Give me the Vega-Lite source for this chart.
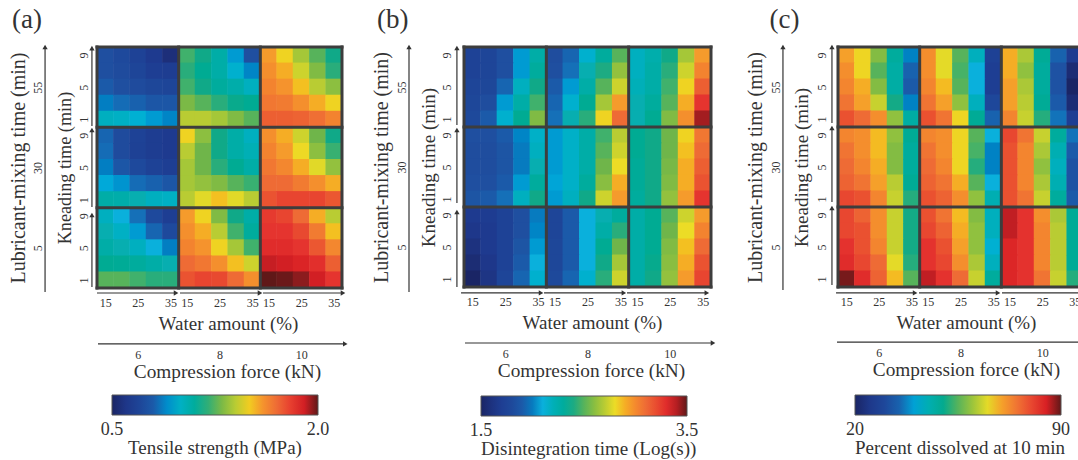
{"$schema":"https://vega.github.io/schema/vega-lite/v6.json","padding":{"left":7,"top":5,"right":0,"bottom":0},"bounds":"flush","spacing":122,"resolve":{"scale":{"color":"independent"},"legend":{"color":"independent"}},"config":{"view":{"stroke":null},"font":"Liberation Serif","axis":{"labelFont":"Liberation Serif","titleFont":"Liberation Serif","labelColor":"#333","titleColor":"#333","titleFontWeight":"normal","grid":false,"domain":false,"ticks":false},"legend":{"labelFont":"Liberation Serif","titleFont":"Liberation Serif","labelColor":"#333","titleColor":"#333","titleFontWeight":"normal","titleLimit":320}},"datasets":{"a":[
{"x":0,"y":14,"v":0.77},{"x":1,"y":14,"v":0.73},{"x":2,"y":14,"v":0.68},{"x":3,"y":14,"v":0.62},{"x":4,"y":14,"v":0.56},{"x":5,"y":14,"v":1.22},{"x":6,"y":14,"v":1.16},{"x":7,"y":14,"v":1.07},{"x":8,"y":14,"v":0.92},{"x":9,"y":14,"v":0.77},{"x":10,"y":14,"v":1.58},{"x":11,"y":14,"v":1.49},{"x":12,"y":14,"v":1.37},{"x":13,"y":14,"v":1.25},{"x":14,"y":14,"v":1.16},
{"x":0,"y":13,"v":0.77},{"x":1,"y":13,"v":0.74},{"x":2,"y":13,"v":0.7},{"x":3,"y":13,"v":0.65},{"x":4,"y":13,"v":0.64},{"x":5,"y":13,"v":1.19},{"x":6,"y":13,"v":1.13},{"x":7,"y":13,"v":1.07},{"x":8,"y":13,"v":0.98},{"x":9,"y":13,"v":0.89},{"x":10,"y":13,"v":1.61},{"x":11,"y":13,"v":1.55},{"x":12,"y":13,"v":1.43},{"x":13,"y":13,"v":1.31},{"x":14,"y":13,"v":1.19},
{"x":0,"y":12,"v":0.8},{"x":1,"y":12,"v":0.77},{"x":2,"y":12,"v":0.74},{"x":3,"y":12,"v":0.71},{"x":4,"y":12,"v":0.7},{"x":5,"y":12,"v":1.22},{"x":6,"y":12,"v":1.16},{"x":7,"y":12,"v":1.1},{"x":8,"y":12,"v":1.06},{"x":9,"y":12,"v":1.01},{"x":10,"y":12,"v":1.64},{"x":11,"y":12,"v":1.6},{"x":12,"y":12,"v":1.52},{"x":13,"y":12,"v":1.4},{"x":14,"y":12,"v":1.33},
{"x":0,"y":11,"v":0.88},{"x":1,"y":11,"v":0.85},{"x":2,"y":11,"v":0.82},{"x":3,"y":11,"v":0.79},{"x":4,"y":11,"v":0.79},{"x":5,"y":11,"v":1.3},{"x":6,"y":11,"v":1.25},{"x":7,"y":11,"v":1.19},{"x":8,"y":11,"v":1.15},{"x":9,"y":11,"v":1.13},{"x":10,"y":11,"v":1.67},{"x":11,"y":11,"v":1.66},{"x":12,"y":11,"v":1.61},{"x":13,"y":11,"v":1.55},{"x":14,"y":11,"v":1.49},
{"x":0,"y":10,"v":1.01},{"x":1,"y":10,"v":1.0},{"x":2,"y":10,"v":0.97},{"x":3,"y":10,"v":0.92},{"x":4,"y":10,"v":0.89},{"x":5,"y":10,"v":1.4},{"x":6,"y":10,"v":1.4},{"x":7,"y":10,"v":1.37},{"x":8,"y":10,"v":1.31},{"x":9,"y":10,"v":1.25},{"x":10,"y":10,"v":1.73},{"x":11,"y":10,"v":1.73},{"x":12,"y":10,"v":1.72},{"x":13,"y":10,"v":1.69},{"x":14,"y":10,"v":1.64},
{"x":0,"y":9,"v":0.83},{"x":1,"y":9,"v":0.74},{"x":2,"y":9,"v":0.68},{"x":3,"y":9,"v":0.64},{"x":4,"y":9,"v":0.62},{"x":5,"y":9,"v":1.49},{"x":6,"y":9,"v":1.33},{"x":7,"y":9,"v":1.16},{"x":8,"y":9,"v":1.07},{"x":9,"y":9,"v":1.01},{"x":10,"y":9,"v":1.61},{"x":11,"y":9,"v":1.55},{"x":12,"y":9,"v":1.43},{"x":13,"y":9,"v":1.28},{"x":14,"y":9,"v":1.16},
{"x":0,"y":8,"v":0.85},{"x":1,"y":8,"v":0.74},{"x":2,"y":8,"v":0.67},{"x":3,"y":8,"v":0.64},{"x":4,"y":8,"v":0.62},{"x":5,"y":8,"v":1.4},{"x":6,"y":8,"v":1.28},{"x":7,"y":8,"v":1.16},{"x":8,"y":8,"v":1.07},{"x":9,"y":8,"v":1.03},{"x":10,"y":8,"v":1.64},{"x":11,"y":8,"v":1.58},{"x":12,"y":8,"v":1.48},{"x":13,"y":8,"v":1.33},{"x":14,"y":8,"v":1.21},
{"x":0,"y":7,"v":0.88},{"x":1,"y":7,"v":0.79},{"x":2,"y":7,"v":0.73},{"x":3,"y":7,"v":0.68},{"x":4,"y":7,"v":0.65},{"x":5,"y":7,"v":1.37},{"x":6,"y":7,"v":1.28},{"x":7,"y":7,"v":1.19},{"x":8,"y":7,"v":1.13},{"x":9,"y":7,"v":1.07},{"x":10,"y":7,"v":1.67},{"x":11,"y":7,"v":1.63},{"x":12,"y":7,"v":1.55},{"x":13,"y":7,"v":1.46},{"x":14,"y":7,"v":1.34},
{"x":0,"y":6,"v":0.94},{"x":1,"y":6,"v":0.91},{"x":2,"y":6,"v":0.85},{"x":3,"y":6,"v":0.82},{"x":4,"y":6,"v":0.79},{"x":5,"y":6,"v":1.37},{"x":6,"y":6,"v":1.34},{"x":7,"y":6,"v":1.31},{"x":8,"y":6,"v":1.25},{"x":9,"y":6,"v":1.21},{"x":10,"y":6,"v":1.7},{"x":11,"y":6,"v":1.7},{"x":12,"y":6,"v":1.66},{"x":13,"y":6,"v":1.61},{"x":14,"y":6,"v":1.55},
{"x":0,"y":5,"v":1.07},{"x":1,"y":5,"v":1.06},{"x":2,"y":5,"v":1.04},{"x":3,"y":5,"v":1.01},{"x":4,"y":5,"v":1.0},{"x":5,"y":5,"v":1.4},{"x":6,"y":5,"v":1.46},{"x":7,"y":5,"v":1.52},{"x":8,"y":5,"v":1.46},{"x":9,"y":5,"v":1.4},{"x":10,"y":5,"v":1.76},{"x":11,"y":5,"v":1.79},{"x":12,"y":5,"v":1.79},{"x":13,"y":5,"v":1.79},{"x":14,"y":5,"v":1.75},
{"x":0,"y":4,"v":1.01},{"x":1,"y":4,"v":0.95},{"x":2,"y":4,"v":0.86},{"x":3,"y":4,"v":0.73},{"x":4,"y":4,"v":0.65},{"x":5,"y":4,"v":1.58},{"x":6,"y":4,"v":1.49},{"x":7,"y":4,"v":1.31},{"x":8,"y":4,"v":1.16},{"x":9,"y":4,"v":1.07},{"x":10,"y":4,"v":1.81},{"x":11,"y":4,"v":1.79},{"x":12,"y":4,"v":1.7},{"x":13,"y":4,"v":1.55},{"x":14,"y":4,"v":1.4},
{"x":0,"y":3,"v":1.04},{"x":1,"y":3,"v":1.0},{"x":2,"y":3,"v":0.92},{"x":3,"y":3,"v":0.83},{"x":4,"y":3,"v":0.73},{"x":5,"y":3,"v":1.61},{"x":6,"y":3,"v":1.55},{"x":7,"y":3,"v":1.4},{"x":8,"y":3,"v":1.22},{"x":9,"y":3,"v":1.1},{"x":10,"y":3,"v":1.82},{"x":11,"y":3,"v":1.82},{"x":12,"y":3,"v":1.78},{"x":13,"y":3,"v":1.66},{"x":14,"y":3,"v":1.52},
{"x":0,"y":2,"v":1.07},{"x":1,"y":2,"v":1.04},{"x":2,"y":2,"v":1.01},{"x":3,"y":2,"v":0.95},{"x":4,"y":2,"v":0.88},{"x":5,"y":2,"v":1.64},{"x":6,"y":2,"v":1.6},{"x":7,"y":2,"v":1.49},{"x":8,"y":2,"v":1.37},{"x":9,"y":2,"v":1.22},{"x":10,"y":2,"v":1.85},{"x":11,"y":2,"v":1.85},{"x":12,"y":2,"v":1.82},{"x":13,"y":2,"v":1.75},{"x":14,"y":2,"v":1.63},
{"x":0,"y":1,"v":1.13},{"x":1,"y":1,"v":1.12},{"x":2,"y":1,"v":1.1},{"x":3,"y":1,"v":1.07},{"x":4,"y":1,"v":1.04},{"x":5,"y":1,"v":1.7},{"x":6,"y":1,"v":1.67},{"x":7,"y":1,"v":1.61},{"x":8,"y":1,"v":1.52},{"x":9,"y":1,"v":1.43},{"x":10,"y":1,"v":1.91},{"x":11,"y":1,"v":1.9},{"x":12,"y":1,"v":1.88},{"x":13,"y":1,"v":1.84},{"x":14,"y":1,"v":1.73},
{"x":0,"y":0,"v":1.25},{"x":1,"y":0,"v":1.25},{"x":2,"y":0,"v":1.22},{"x":3,"y":0,"v":1.19},{"x":4,"y":0,"v":1.19},{"x":5,"y":0,"v":1.76},{"x":6,"y":0,"v":1.79},{"x":7,"y":0,"v":1.78},{"x":8,"y":0,"v":1.7},{"x":9,"y":0,"v":1.61},{"x":10,"y":0,"v":2.0},{"x":11,"y":0,"v":1.99},{"x":12,"y":0,"v":1.96},{"x":13,"y":0,"v":1.9},{"x":14,"y":0,"v":1.82}
],"b":[
{"x":0,"y":14,"v":1.74},{"x":1,"y":14,"v":1.76},{"x":2,"y":14,"v":1.86},{"x":3,"y":14,"v":2.06},{"x":4,"y":14,"v":2.26},{"x":5,"y":14,"v":1.84},{"x":6,"y":14,"v":1.94},{"x":7,"y":14,"v":2.14},{"x":8,"y":14,"v":2.3},{"x":9,"y":14,"v":2.5},{"x":10,"y":14,"v":2.18},{"x":11,"y":14,"v":2.24},{"x":12,"y":14,"v":2.38},{"x":13,"y":14,"v":2.66},{"x":14,"y":14,"v":2.94},
{"x":0,"y":13,"v":1.74},{"x":1,"y":13,"v":1.76},{"x":2,"y":13,"v":1.86},{"x":3,"y":13,"v":2.06},{"x":4,"y":13,"v":2.3},{"x":5,"y":13,"v":1.86},{"x":6,"y":13,"v":1.98},{"x":7,"y":13,"v":2.22},{"x":8,"y":13,"v":2.4},{"x":9,"y":13,"v":2.62},{"x":10,"y":13,"v":2.18},{"x":11,"y":13,"v":2.26},{"x":12,"y":13,"v":2.42},{"x":13,"y":13,"v":2.74},{"x":14,"y":13,"v":3.02},
{"x":0,"y":12,"v":1.76},{"x":1,"y":12,"v":1.78},{"x":2,"y":12,"v":1.94},{"x":3,"y":12,"v":2.18},{"x":4,"y":12,"v":2.38},{"x":5,"y":12,"v":1.9},{"x":6,"y":12,"v":2.06},{"x":7,"y":12,"v":2.26},{"x":8,"y":12,"v":2.5},{"x":9,"y":12,"v":2.74},{"x":10,"y":12,"v":2.2},{"x":11,"y":12,"v":2.26},{"x":12,"y":12,"v":2.46},{"x":13,"y":12,"v":2.82},{"x":14,"y":12,"v":3.14},
{"x":0,"y":11,"v":1.78},{"x":1,"y":11,"v":1.84},{"x":2,"y":11,"v":2.06},{"x":3,"y":11,"v":2.26},{"x":4,"y":11,"v":2.46},{"x":5,"y":11,"v":1.94},{"x":6,"y":11,"v":2.14},{"x":7,"y":11,"v":2.34},{"x":8,"y":11,"v":2.66},{"x":9,"y":11,"v":2.94},{"x":10,"y":11,"v":2.22},{"x":11,"y":11,"v":2.3},{"x":12,"y":11,"v":2.5},{"x":13,"y":11,"v":2.9},{"x":14,"y":11,"v":3.26},
{"x":0,"y":10,"v":1.8},{"x":1,"y":10,"v":1.9},{"x":2,"y":10,"v":2.14},{"x":3,"y":10,"v":2.34},{"x":4,"y":10,"v":2.58},{"x":5,"y":10,"v":1.98},{"x":6,"y":10,"v":2.22},{"x":7,"y":10,"v":2.42},{"x":8,"y":10,"v":2.82},{"x":9,"y":10,"v":3.1},{"x":10,"y":10,"v":2.22},{"x":11,"y":10,"v":2.34},{"x":12,"y":10,"v":2.58},{"x":13,"y":10,"v":2.98},{"x":14,"y":10,"v":3.42},
{"x":0,"y":9,"v":1.86},{"x":1,"y":9,"v":1.86},{"x":2,"y":9,"v":1.9},{"x":3,"y":9,"v":2.02},{"x":4,"y":9,"v":2.16},{"x":5,"y":9,"v":2.06},{"x":6,"y":9,"v":2.16},{"x":7,"y":9,"v":2.26},{"x":8,"y":9,"v":2.46},{"x":9,"y":9,"v":2.7},{"x":10,"y":9,"v":2.34},{"x":11,"y":9,"v":2.38},{"x":12,"y":9,"v":2.54},{"x":13,"y":9,"v":2.82},{"x":14,"y":9,"v":3.06},
{"x":0,"y":8,"v":1.84},{"x":1,"y":8,"v":1.84},{"x":2,"y":8,"v":1.88},{"x":3,"y":8,"v":2.0},{"x":4,"y":8,"v":2.18},{"x":5,"y":8,"v":2.06},{"x":6,"y":8,"v":2.16},{"x":7,"y":8,"v":2.26},{"x":8,"y":8,"v":2.5},{"x":9,"y":8,"v":2.74},{"x":10,"y":8,"v":2.34},{"x":11,"y":8,"v":2.38},{"x":12,"y":8,"v":2.54},{"x":13,"y":8,"v":2.86},{"x":14,"y":8,"v":3.1},
{"x":0,"y":7,"v":1.84},{"x":1,"y":7,"v":1.84},{"x":2,"y":7,"v":1.88},{"x":3,"y":7,"v":2.0},{"x":4,"y":7,"v":2.22},{"x":5,"y":7,"v":2.06},{"x":6,"y":7,"v":2.16},{"x":7,"y":7,"v":2.26},{"x":8,"y":7,"v":2.54},{"x":9,"y":7,"v":2.8},{"x":10,"y":7,"v":2.32},{"x":11,"y":7,"v":2.38},{"x":12,"y":7,"v":2.56},{"x":13,"y":7,"v":2.9},{"x":14,"y":7,"v":3.14},
{"x":0,"y":6,"v":1.86},{"x":1,"y":6,"v":1.86},{"x":2,"y":6,"v":1.9},{"x":3,"y":6,"v":2.06},{"x":4,"y":6,"v":2.3},{"x":5,"y":6,"v":2.08},{"x":6,"y":6,"v":2.16},{"x":7,"y":6,"v":2.3},{"x":8,"y":6,"v":2.6},{"x":9,"y":6,"v":2.9},{"x":10,"y":6,"v":2.32},{"x":11,"y":6,"v":2.38},{"x":12,"y":6,"v":2.58},{"x":13,"y":6,"v":2.9},{"x":14,"y":6,"v":3.18},
{"x":0,"y":5,"v":1.88},{"x":1,"y":5,"v":1.9},{"x":2,"y":5,"v":1.98},{"x":3,"y":5,"v":2.18},{"x":4,"y":5,"v":2.38},{"x":5,"y":5,"v":2.06},{"x":6,"y":5,"v":2.18},{"x":7,"y":5,"v":2.38},{"x":8,"y":5,"v":2.74},{"x":9,"y":5,"v":2.94},{"x":10,"y":5,"v":2.3},{"x":11,"y":5,"v":2.38},{"x":12,"y":5,"v":2.62},{"x":13,"y":5,"v":2.94},{"x":14,"y":5,"v":3.26},
{"x":0,"y":4,"v":1.66},{"x":1,"y":4,"v":1.68},{"x":2,"y":4,"v":1.74},{"x":3,"y":4,"v":1.86},{"x":4,"y":4,"v":2.0},{"x":5,"y":4,"v":1.76},{"x":6,"y":4,"v":1.9},{"x":7,"y":4,"v":2.1},{"x":8,"y":4,"v":2.22},{"x":9,"y":4,"v":2.3},{"x":10,"y":4,"v":2.26},{"x":11,"y":4,"v":2.34},{"x":12,"y":4,"v":2.5},{"x":13,"y":4,"v":2.74},{"x":14,"y":4,"v":2.94},
{"x":0,"y":3,"v":1.64},{"x":1,"y":3,"v":1.66},{"x":2,"y":3,"v":1.74},{"x":3,"y":3,"v":1.86},{"x":4,"y":3,"v":2.02},{"x":5,"y":3,"v":1.76},{"x":6,"y":3,"v":1.9},{"x":7,"y":3,"v":2.1},{"x":8,"y":3,"v":2.26},{"x":9,"y":3,"v":2.42},{"x":10,"y":3,"v":2.26},{"x":11,"y":3,"v":2.34},{"x":12,"y":3,"v":2.54},{"x":13,"y":3,"v":2.8},{"x":14,"y":3,"v":3.02},
{"x":0,"y":2,"v":1.6},{"x":1,"y":2,"v":1.66},{"x":2,"y":2,"v":1.74},{"x":3,"y":2,"v":1.88},{"x":4,"y":2,"v":2.06},{"x":5,"y":2,"v":1.78},{"x":6,"y":2,"v":1.9},{"x":7,"y":2,"v":2.1},{"x":8,"y":2,"v":2.34},{"x":9,"y":2,"v":2.54},{"x":10,"y":2,"v":2.26},{"x":11,"y":2,"v":2.34},{"x":12,"y":2,"v":2.58},{"x":13,"y":2,"v":2.86},{"x":14,"y":2,"v":3.1},
{"x":0,"y":1,"v":1.56},{"x":1,"y":1,"v":1.64},{"x":2,"y":1,"v":1.74},{"x":3,"y":1,"v":1.9},{"x":4,"y":1,"v":2.1},{"x":5,"y":1,"v":1.78},{"x":6,"y":1,"v":1.9},{"x":7,"y":1,"v":2.1},{"x":8,"y":1,"v":2.38},{"x":9,"y":1,"v":2.66},{"x":10,"y":1,"v":2.26},{"x":11,"y":1,"v":2.36},{"x":12,"y":1,"v":2.6},{"x":13,"y":1,"v":2.9},{"x":14,"y":1,"v":3.18},
{"x":0,"y":0,"v":1.5},{"x":1,"y":0,"v":1.62},{"x":2,"y":0,"v":1.76},{"x":3,"y":0,"v":1.94},{"x":4,"y":0,"v":2.14},{"x":5,"y":0,"v":1.8},{"x":6,"y":0,"v":1.94},{"x":7,"y":0,"v":2.14},{"x":8,"y":0,"v":2.42},{"x":9,"y":0,"v":2.74},{"x":10,"y":0,"v":2.26},{"x":11,"y":0,"v":2.38},{"x":12,"y":0,"v":2.62},{"x":13,"y":0,"v":2.94},{"x":14,"y":0,"v":3.22}
],"c":[
{"x":0,"y":14,"v":70},{"x":1,"y":14,"v":66},{"x":2,"y":14,"v":58},{"x":3,"y":14,"v":48},{"x":4,"y":14,"v":38},{"x":5,"y":14,"v":72},{"x":6,"y":14,"v":65},{"x":7,"y":14,"v":55},{"x":8,"y":14,"v":44},{"x":9,"y":14,"v":28},{"x":10,"y":14,"v":69},{"x":11,"y":14,"v":61},{"x":12,"y":14,"v":49},{"x":13,"y":14,"v":35},{"x":14,"y":14,"v":26},
{"x":0,"y":13,"v":72},{"x":1,"y":13,"v":66},{"x":2,"y":13,"v":55},{"x":3,"y":13,"v":47},{"x":4,"y":13,"v":35},{"x":5,"y":13,"v":72},{"x":6,"y":13,"v":65},{"x":7,"y":13,"v":54},{"x":8,"y":13,"v":41},{"x":9,"y":13,"v":27},{"x":10,"y":13,"v":69},{"x":11,"y":13,"v":59},{"x":12,"y":13,"v":48},{"x":13,"y":13,"v":33},{"x":14,"y":13,"v":22},
{"x":0,"y":12,"v":73},{"x":1,"y":12,"v":69},{"x":2,"y":12,"v":58},{"x":3,"y":12,"v":47},{"x":4,"y":12,"v":34},{"x":5,"y":12,"v":73},{"x":6,"y":12,"v":68},{"x":7,"y":12,"v":55},{"x":8,"y":12,"v":41},{"x":9,"y":12,"v":27},{"x":10,"y":12,"v":70},{"x":11,"y":12,"v":61},{"x":12,"y":12,"v":48},{"x":13,"y":12,"v":33},{"x":14,"y":12,"v":20},
{"x":0,"y":11,"v":75},{"x":1,"y":11,"v":70},{"x":2,"y":11,"v":63},{"x":3,"y":11,"v":51},{"x":4,"y":11,"v":38},{"x":5,"y":11,"v":75},{"x":6,"y":11,"v":70},{"x":7,"y":11,"v":59},{"x":8,"y":11,"v":44},{"x":9,"y":11,"v":30},{"x":10,"y":11,"v":70},{"x":11,"y":11,"v":62},{"x":12,"y":11,"v":49},{"x":13,"y":11,"v":34},{"x":14,"y":11,"v":22},
{"x":0,"y":10,"v":79},{"x":1,"y":10,"v":76},{"x":2,"y":10,"v":72},{"x":3,"y":10,"v":59},{"x":4,"y":10,"v":47},{"x":5,"y":10,"v":79},{"x":6,"y":10,"v":75},{"x":7,"y":10,"v":66},{"x":8,"y":10,"v":49},{"x":9,"y":10,"v":35},{"x":10,"y":10,"v":73},{"x":11,"y":10,"v":63},{"x":12,"y":10,"v":52},{"x":13,"y":10,"v":37},{"x":14,"y":10,"v":27},
{"x":0,"y":9,"v":73},{"x":1,"y":9,"v":72},{"x":2,"y":9,"v":68},{"x":3,"y":9,"v":59},{"x":4,"y":9,"v":49},{"x":5,"y":9,"v":73},{"x":6,"y":9,"v":72},{"x":7,"y":9,"v":66},{"x":8,"y":9,"v":55},{"x":9,"y":9,"v":41},{"x":10,"y":9,"v":80},{"x":11,"y":9,"v":75},{"x":12,"y":9,"v":63},{"x":13,"y":9,"v":48},{"x":14,"y":9,"v":37},
{"x":0,"y":8,"v":75},{"x":1,"y":8,"v":72},{"x":2,"y":8,"v":68},{"x":3,"y":8,"v":58},{"x":4,"y":8,"v":48},{"x":5,"y":8,"v":75},{"x":6,"y":8,"v":72},{"x":7,"y":8,"v":66},{"x":8,"y":8,"v":54},{"x":9,"y":8,"v":38},{"x":10,"y":8,"v":79},{"x":11,"y":8,"v":73},{"x":12,"y":8,"v":61},{"x":13,"y":8,"v":45},{"x":14,"y":8,"v":34},
{"x":0,"y":7,"v":76},{"x":1,"y":7,"v":73},{"x":2,"y":7,"v":69},{"x":3,"y":7,"v":58},{"x":4,"y":7,"v":48},{"x":5,"y":7,"v":76},{"x":6,"y":7,"v":73},{"x":7,"y":7,"v":66},{"x":8,"y":7,"v":52},{"x":9,"y":7,"v":38},{"x":10,"y":7,"v":79},{"x":11,"y":7,"v":73},{"x":12,"y":7,"v":59},{"x":13,"y":7,"v":44},{"x":14,"y":7,"v":33},
{"x":0,"y":6,"v":77},{"x":1,"y":6,"v":75},{"x":2,"y":6,"v":70},{"x":3,"y":6,"v":62},{"x":4,"y":6,"v":49},{"x":5,"y":6,"v":77},{"x":6,"y":6,"v":75},{"x":7,"y":6,"v":69},{"x":8,"y":6,"v":55},{"x":9,"y":6,"v":41},{"x":10,"y":6,"v":79},{"x":11,"y":6,"v":73},{"x":12,"y":6,"v":61},{"x":13,"y":6,"v":45},{"x":14,"y":6,"v":33},
{"x":0,"y":5,"v":80},{"x":1,"y":5,"v":79},{"x":2,"y":5,"v":73},{"x":3,"y":5,"v":63},{"x":4,"y":5,"v":52},{"x":5,"y":5,"v":79},{"x":6,"y":5,"v":77},{"x":7,"y":5,"v":72},{"x":8,"y":5,"v":59},{"x":9,"y":5,"v":45},{"x":10,"y":5,"v":79},{"x":11,"y":5,"v":75},{"x":12,"y":5,"v":63},{"x":13,"y":5,"v":48},{"x":14,"y":5,"v":34},
{"x":0,"y":4,"v":80},{"x":1,"y":4,"v":77},{"x":2,"y":4,"v":72},{"x":3,"y":4,"v":63},{"x":4,"y":4,"v":51},{"x":5,"y":4,"v":79},{"x":6,"y":4,"v":75},{"x":7,"y":4,"v":68},{"x":8,"y":4,"v":58},{"x":9,"y":4,"v":44},{"x":10,"y":4,"v":86},{"x":11,"y":4,"v":82},{"x":12,"y":4,"v":72},{"x":13,"y":4,"v":61},{"x":14,"y":4,"v":49},
{"x":0,"y":3,"v":80},{"x":1,"y":3,"v":79},{"x":2,"y":3,"v":72},{"x":3,"y":3,"v":63},{"x":4,"y":3,"v":51},{"x":5,"y":3,"v":80},{"x":6,"y":3,"v":77},{"x":7,"y":3,"v":69},{"x":8,"y":3,"v":59},{"x":9,"y":3,"v":44},{"x":10,"y":3,"v":86},{"x":11,"y":3,"v":82},{"x":12,"y":3,"v":73},{"x":13,"y":3,"v":62},{"x":14,"y":3,"v":49},
{"x":0,"y":2,"v":82},{"x":1,"y":2,"v":79},{"x":2,"y":2,"v":73},{"x":3,"y":2,"v":63},{"x":4,"y":2,"v":51},{"x":5,"y":2,"v":82},{"x":6,"y":2,"v":79},{"x":7,"y":2,"v":70},{"x":8,"y":2,"v":59},{"x":9,"y":2,"v":42},{"x":10,"y":2,"v":84},{"x":11,"y":2,"v":82},{"x":12,"y":2,"v":73},{"x":13,"y":2,"v":62},{"x":14,"y":2,"v":49},
{"x":0,"y":1,"v":83},{"x":1,"y":1,"v":80},{"x":2,"y":1,"v":76},{"x":3,"y":1,"v":65},{"x":4,"y":1,"v":52},{"x":5,"y":1,"v":82},{"x":6,"y":1,"v":80},{"x":7,"y":1,"v":72},{"x":8,"y":1,"v":61},{"x":9,"y":1,"v":44},{"x":10,"y":1,"v":84},{"x":11,"y":1,"v":82},{"x":12,"y":1,"v":73},{"x":13,"y":1,"v":62},{"x":14,"y":1,"v":49},
{"x":0,"y":0,"v":89},{"x":1,"y":0,"v":83},{"x":2,"y":0,"v":77},{"x":3,"y":0,"v":68},{"x":4,"y":0,"v":55},{"x":5,"y":0,"v":86},{"x":6,"y":0,"v":82},{"x":7,"y":0,"v":76},{"x":8,"y":0,"v":63},{"x":9,"y":0,"v":48},{"x":10,"y":0,"v":84},{"x":11,"y":0,"v":82},{"x":12,"y":0,"v":75},{"x":13,"y":0,"v":63},{"x":14,"y":0,"v":52}
],"g":[{"g":-0.5},{"g":4.5},{"g":9.5},{"g":14.5}],
"ara":[{"x":-0.5,"x2":4.34,"y":-0.81,"y2":-0.81},{"x":4.58,"x2":9.48,"y":-0.81,"y2":-0.81},{"x":9.66,"x2":14.56,"y":-0.81,"y2":-0.81},{"x":-0.44,"x2":14.7,"y":-3.98,"y2":-3.98},{"x":-0.81,"x2":-0.81,"y":-0.44,"y2":4.04},{"x":-0.81,"x2":-0.81,"y":4.54,"y2":9.33},{"x":-0.81,"x2":-0.81,"y":9.58,"y2":14.43},{"x":-3.68,"x2":-3.68,"y":-0.75,"y2":14.5}],
"ha":[{"x":4.34,"y":-0.81,"s":"triangle-right"},{"x":9.48,"y":-0.81,"s":"triangle-right"},{"x":14.56,"y":-0.81,"s":"triangle-right"},{"x":14.7,"y":-3.98,"s":"triangle-right"},{"x":-0.81,"y":4.04,"s":"triangle-up"},{"x":-0.81,"y":9.33,"s":"triangle-up"},{"x":-0.81,"y":14.43,"s":"triangle-up"},{"x":-3.68,"y":14.5,"s":"triangle-up"}],
"arb":[{"x":-0.68,"x2":4.18,"y":-0.87,"y2":-0.87},{"x":4.36,"x2":9.21,"y":-0.87,"y2":-0.87},{"x":9.4,"x2":14.25,"y":-0.87,"y2":-0.87},{"x":-0.44,"x2":14.62,"y":-4.0,"y2":-4.0},{"x":-0.93,"x2":-0.93,"y":-0.5,"y2":4.19},{"x":-0.93,"x2":-0.93,"y":4.75,"y2":9.31},{"x":-0.93,"x2":-0.93,"y":9.63,"y2":14.44},{"x":-3.84,"x2":-3.84,"y":-0.81,"y2":14.5}],
"hb":[{"x":4.18,"y":-0.87,"s":"triangle-right"},{"x":9.21,"y":-0.87,"s":"triangle-right"},{"x":14.25,"y":-0.87,"s":"triangle-right"},{"x":14.62,"y":-4.0,"s":"triangle-right"},{"x":-0.93,"y":4.19,"s":"triangle-up"},{"x":-0.93,"y":9.31,"s":"triangle-up"},{"x":-0.93,"y":14.44,"s":"triangle-up"},{"x":-3.84,"y":14.5,"s":"triangle-up"}],
"arc":[{"x":-0.62,"x2":4.22,"y":-0.87,"y2":-0.87},{"x":4.46,"x2":9.3,"y":-0.87,"y2":-0.87},{"x":9.54,"x2":14.38,"y":-0.87,"y2":-0.87},{"x":-0.56,"x2":15,"y":-3.94,"y2":-3.94},{"x":-0.87,"x2":-0.87,"y":-0.38,"y2":4.44},{"x":-0.87,"x2":-0.87,"y":4.81,"y2":9.44},{"x":-0.87,"x2":-0.87,"y":9.75,"y2":14.5},{"x":-3.87,"x2":-3.87,"y":-0.69,"y2":14.5}],
"hc":[{"x":4.22,"y":-0.87,"s":"triangle-right"},{"x":9.3,"y":-0.87,"s":"triangle-right"},{"x":14.38,"y":-0.87,"s":"triangle-right"},{"x":-0.87,"y":4.44,"s":"triangle-up"},{"x":-0.87,"y":9.44,"s":"triangle-up"},{"x":-0.87,"y":14.5,"s":"triangle-up"},{"x":-3.87,"y":14.5,"s":"triangle-up"}]
},"hconcat":[{"width":245,"height":241,"layer":[{"data":{"name":"a"},"mark":{"type":"rect","width":16.8,"height":17},"encoding":{"x":{"field":"x","type":"quantitative","scale":{"domain":[-0.5,14.5]},"axis":{"orient":"bottom","values":[0,2,4,5,7,9,10,12,14],"labelExpr":"['15','25','35'][(datum.value%5)/2]","labelFontSize":12,"labelAngle":0,"labelPadding":9,"labelFlush":false,"title":"Water amount (%)","titleFontSize":19,"titlePadding":6,"titleX":131}},"y":{"field":"y","type":"quantitative","scale":{"domain":[-0.5,14.5]},"axis":{"orient":"left","values":[0,2,4,5,7,9,10,12,14],"labelExpr":"['1','5','9'][(datum.value%5)/2]","labelFontSize":12,"labelAngle":-90,"labelPadding":7,"labelFlush":false,"title":"Kneading time (min)","titleFontSize":18.2,"titlePadding":3}},"color":{"field":"v","type":"quantitative","scale":{"domain":[0.5,0.62,0.77,0.86,0.95,1.04,1.16,1.28,1.4,1.475,1.58,1.7,1.82,1.895,2.0],"range":["#1a2565","#1e3a8f","#1f4fa0","#1570b8","#0ab0dc","#07aeb0","#10a988","#6fb54a","#b9cc33","#ecdc26","#f59b2c","#ee6b35","#e5342f","#d81f24","#601818"]},"legend":{"orient":"none","legendX":15,"legendY":348,"direction":"horizontal","gradientLength":206,"gradientThickness":20,"gradientStrokeColor":"#555","gradientStrokeWidth":1,"values":[0.5,2.0],"labelFontSize":18,"labelOffset":6,"format":".1f","title":"Tensile strength (MPa)","titleOrient":"bottom","titleAnchor":"middle","titleFontSize":19,"titlePadding":0,"encode":{"labels":{"update":{"align":{"value":"center"}}}}}}}},{"data":{"name":"ara"},"mark":{"type":"rule","color":"#333","strokeWidth":1.2},"encoding":{"x":{"field":"x","type":"quantitative","scale":{"domain":[-0.5,14.5]},"axis":{"orient":"bottom","offset":56,"values":[2,7,12],"labelExpr":"['6','8','10'][(datum.value-2)/5]","labelFontSize":12,"labelAngle":0,"labelPadding":5,"title":"Compression force (kN)","titleFontSize":19.3,"titlePadding":2,"titleX":130}},"x2":{"field":"x2"},"y":{"field":"y","type":"quantitative","scale":{"domain":[-0.5,14.5]},"axis":{"orient":"left","offset":52,"values":[2,7,12],"labelExpr":"['5','30','55'][(datum.value-2)/5]","labelFontSize":12,"labelAngle":-90,"labelPadding":1,"title":"Lubricant-mixing time  (min)","titleFontSize":20,"titlePadding":3}},"y2":{"field":"y2"}}},{"data":{"name":"ha"},"mark":{"type":"point","filled":true,"size":28,"color":"#333","opacity":1},"encoding":{"x":{"field":"x","type":"quantitative","scale":{"domain":[-0.5,14.5]},"axis":null},"y":{"field":"y","type":"quantitative","scale":{"domain":[-0.5,14.5]},"axis":null},"shape":{"field":"s","type":"nominal","scale":null,"legend":null}}},{"data":{"name":"g"},"mark":{"type":"rule","color":"#3d3d3d","strokeWidth":3,"strokeCap":"square"},"encoding":{"x":{"field":"g","type":"quantitative","scale":{"domain":[-0.5,14.5]},"axis":null}}},{"data":{"name":"g"},"mark":{"type":"rule","color":"#3d3d3d","strokeWidth":3,"strokeCap":"square"},"encoding":{"y":{"field":"g","type":"quantitative","scale":{"domain":[-0.5,14.5]},"axis":null}}},{"data":{"values":[{"x":-5.7,"y":16.2,"t":"(a)"}]},"mark":{"type":"text","fontSize":27,"color":"#333","align":"left","font":"Liberation Serif"},"encoding":{"x":{"field":"x","type":"quantitative","scale":{"domain":[-0.5,14.5]},"axis":null},"y":{"field":"y","type":"quantitative","scale":{"domain":[-0.5,14.5]},"axis":null},"text":{"field":"t"}}}],"resolve":{"axis":{"x":"independent","y":"independent"}}},
{"bounds":"flush","spacing":127,"resolve":{"scale":{"color":"independent"},"legend":{"color":"independent"}},"hconcat":[{"width":247,"height":240,"layer":[{"data":{"name":"b"},"mark":{"type":"rect","width":17,"height":17},"encoding":{"x":{"field":"x","type":"quantitative","scale":{"domain":[-0.5,14.5]},"axis":{"orient":"bottom","values":[0,2,4,5,7,9,10,12,14],"labelExpr":"['15','25','35'][(datum.value%5)/2]","labelFontSize":12,"labelAngle":0,"labelPadding":9,"labelFlush":false,"title":"Water amount (%)","titleFontSize":19,"titlePadding":6,"titleX":128}},"y":{"field":"y","type":"quantitative","scale":{"domain":[-0.5,14.5]},"axis":{"orient":"left","values":[0,2,4,5,7,9,10,12,14],"labelExpr":"['1','5','9'][(datum.value%5)/2]","labelFontSize":12,"labelAngle":-90,"labelPadding":11,"labelFlush":false,"title":"Kneading time (min)","titleFontSize":19,"titlePadding":2}},"color":{"field":"v","type":"quantitative","scale":{"domain":[1.5,1.66,1.86,1.98,2.1,2.22,2.38,2.54,2.7,2.8,2.94,3.1,3.26,3.36,3.5],"range":["#1a2565","#1e3a8f","#1f4fa0","#1570b8","#0ab0dc","#07aeb0","#10a988","#6fb54a","#b9cc33","#ecdc26","#f59b2c","#ee6b35","#e5342f","#d81f24","#601818"]},"legend":{"orient":"none","legendX":17,"legendY":349,"direction":"horizontal","gradientLength":206,"gradientThickness":20,"gradientStrokeColor":"#555","gradientStrokeWidth":1,"values":[1.5,3.5],"labelFontSize":18,"labelOffset":6,"format":".1f","title":"Disintegration time (Log(s))","titleOrient":"bottom","titleAnchor":"start","titleFontSize":19,"titlePadding":0,"encode":{"labels":{"update":{"align":{"value":"center"}}}}}}}},{"data":{"name":"arb"},"mark":{"type":"rule","color":"#333","strokeWidth":1.2},"encoding":{"x":{"field":"x","type":"quantitative","scale":{"domain":[-0.5,14.5]},"axis":{"orient":"bottom","offset":56,"values":[2,7,12],"labelExpr":"['6','8','10'][(datum.value-2)/5]","labelFontSize":12,"labelAngle":0,"labelPadding":5,"title":"Compression force (kN)","titleFontSize":19.3,"titlePadding":2,"titleX":127}},"x2":{"field":"x2"},"y":{"field":"y","type":"quantitative","scale":{"domain":[-0.5,14.5]},"axis":{"orient":"left","offset":55,"values":[2,7,12],"labelExpr":"['5','30','55'][(datum.value-2)/5]","labelFontSize":12,"labelAngle":-90,"labelPadding":1,"title":"Lubricant-mixing time  (min)","titleFontSize":20,"titlePadding":4}},"y2":{"field":"y2"}}},{"data":{"name":"hb"},"mark":{"type":"point","filled":true,"size":28,"color":"#333","opacity":1},"encoding":{"x":{"field":"x","type":"quantitative","scale":{"domain":[-0.5,14.5]},"axis":null},"y":{"field":"y","type":"quantitative","scale":{"domain":[-0.5,14.5]},"axis":null},"shape":{"field":"s","type":"nominal","scale":null,"legend":null}}},{"data":{"name":"g"},"mark":{"type":"rule","color":"#3d3d3d","strokeWidth":3,"strokeCap":"square"},"encoding":{"x":{"field":"g","type":"quantitative","scale":{"domain":[-0.5,14.5]},"axis":null}}},{"data":{"name":"g"},"mark":{"type":"rule","color":"#3d3d3d","strokeWidth":3,"strokeCap":"square"},"encoding":{"y":{"field":"g","type":"quantitative","scale":{"domain":[-0.5,14.5]},"axis":null}}},{"data":{"values":[{"x":-5.78,"y":16.2,"t":"(b)"}]},"mark":{"type":"text","fontSize":27,"color":"#333","align":"left","font":"Liberation Serif"},"encoding":{"x":{"field":"x","type":"quantitative","scale":{"domain":[-0.5,14.5]},"axis":null},"y":{"field":"y","type":"quantitative","scale":{"domain":[-0.5,14.5]},"axis":null},"text":{"field":"t"}}}],"resolve":{"axis":{"x":"independent","y":"independent"}}},
{"width":245,"height":240,"layer":[{"data":{"name":"c"},"mark":{"type":"rect","width":16.8,"height":17},"encoding":{"x":{"field":"x","type":"quantitative","scale":{"domain":[-0.5,14.5]},"axis":{"orient":"bottom","values":[0,2,4,5,7,9,10,12,14],"labelExpr":"['15','25','35'][(datum.value%5)/2]","labelFontSize":12,"labelAngle":0,"labelPadding":9,"labelFlush":false,"title":"Water amount (%)","titleFontSize":19,"titlePadding":6,"titleX":128}},"y":{"field":"y","type":"quantitative","scale":{"domain":[-0.5,14.5]},"axis":{"orient":"left","values":[0,2,4,5,7,9,10,12,14],"labelExpr":"['1','5','9'][(datum.value%5)/2]","labelFontSize":12,"labelAngle":-90,"labelPadding":10,"labelFlush":false,"title":"Kneading time (min)","titleFontSize":19,"titlePadding":4}},"color":{"field":"v","type":"quantitative","scale":{"domain":[20,25.6,32.6,36.8,41,45.2,50.8,56.4,62,65.5,70.4,76,81.6,85.1,90],"range":["#1a2565","#1e3a8f","#1f4fa0","#1570b8","#0ab0dc","#07aeb0","#10a988","#6fb54a","#b9cc33","#ecdc26","#f59b2c","#ee6b35","#e5342f","#d81f24","#601818"]},"legend":{"orient":"none","legendX":17,"legendY":348,"direction":"horizontal","gradientLength":206,"gradientThickness":20,"gradientStrokeColor":"#555","gradientStrokeWidth":1,"values":[20,90],"labelFontSize":18,"labelOffset":6,"title":"Percent dissolved at 10 min","titleOrient":"bottom","titleAnchor":"start","titleFontSize":19,"titlePadding":0,"encode":{"labels":{"update":{"align":{"value":"center"}}}}}}}},{"data":{"name":"arc"},"mark":{"type":"rule","color":"#333","strokeWidth":1.2},"encoding":{"x":{"field":"x","type":"quantitative","scale":{"domain":[-0.5,14.5]},"axis":{"orient":"bottom","offset":55,"values":[2,7,12],"labelExpr":"['6','8','10'][(datum.value-2)/5]","labelFontSize":12,"labelAngle":0,"labelPadding":5,"title":"Compression force (kN)","titleFontSize":19.3,"titlePadding":2,"titleX":128}},"x2":{"field":"x2"},"y":{"field":"y","type":"quantitative","scale":{"domain":[-0.5,14.5]},"axis":{"orient":"left","offset":55,"values":[2,7,12],"labelExpr":"['5','30','55'][(datum.value-2)/5]","labelFontSize":12,"labelAngle":-90,"labelPadding":1,"title":"Lubricant-mixing time  (min)","titleFontSize":20,"titlePadding":4}},"y2":{"field":"y2"}}},{"data":{"name":"hc"},"mark":{"type":"point","filled":true,"size":28,"color":"#333","opacity":1},"encoding":{"x":{"field":"x","type":"quantitative","scale":{"domain":[-0.5,14.5]},"axis":null},"y":{"field":"y","type":"quantitative","scale":{"domain":[-0.5,14.5]},"axis":null},"shape":{"field":"s","type":"nominal","scale":null,"legend":null}}},{"data":{"name":"g"},"mark":{"type":"rule","color":"#3d3d3d","strokeWidth":3,"strokeCap":"square"},"encoding":{"x":{"field":"g","type":"quantitative","scale":{"domain":[-0.5,14.5]},"axis":null}}},{"data":{"name":"g"},"mark":{"type":"rule","color":"#3d3d3d","strokeWidth":3,"strokeCap":"square"},"encoding":{"y":{"field":"g","type":"quantitative","scale":{"domain":[-0.5,14.5]},"axis":null}}},{"data":{"values":[{"x":-4.7,"y":16.2,"t":"(c)"}]},"mark":{"type":"text","fontSize":27,"color":"#333","align":"left","font":"Liberation Serif"},"encoding":{"x":{"field":"x","type":"quantitative","scale":{"domain":[-0.5,14.5]},"axis":null},"y":{"field":"y","type":"quantitative","scale":{"domain":[-0.5,14.5]},"axis":null},"text":{"field":"t"}}}],"resolve":{"axis":{"x":"independent","y":"independent"}}}]}]}
